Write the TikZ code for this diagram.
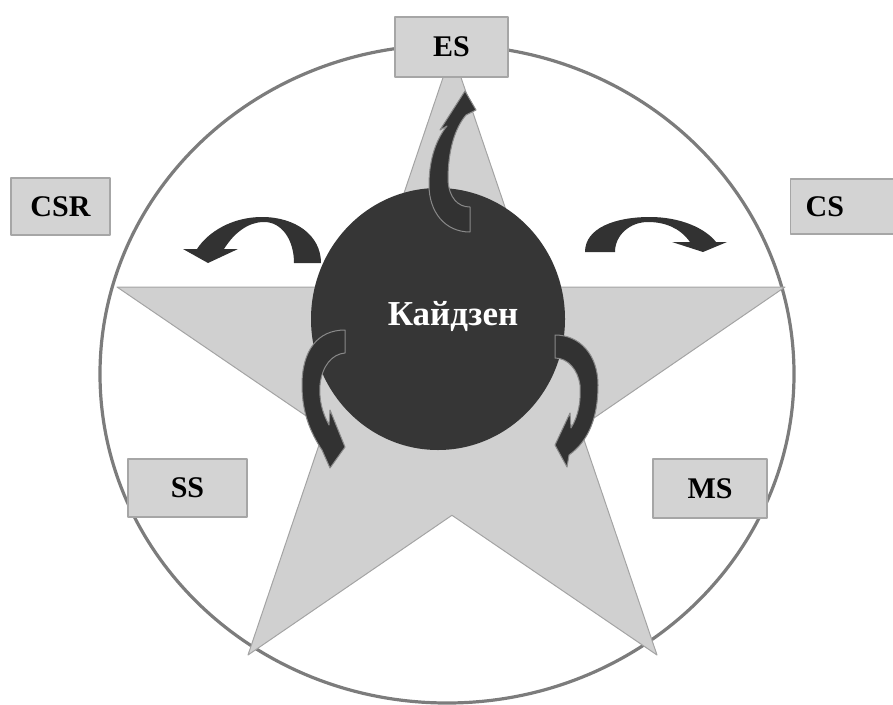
\documentclass[tikz,border=0pt]{standalone}
\usepackage{fontspec}
\setmainfont{Liberation Serif}
\usetikzlibrary{arrows.meta, shapes.geometric}
\definecolor{rimgray}{HTML}{7C7C7C}
\definecolor{starfillc}{HTML}{D0D0D0}
\definecolor{staredge}{HTML}{A4A4A4}
\definecolor{boxfill}{HTML}{D3D3D3}
\definecolor{boxedge}{HTML}{A6A6A6}
\definecolor{coredark}{HTML}{363636}
\definecolor{arrowdark}{HTML}{323232}

\begin{document}
\begin{tikzpicture}[x=1pt, y=-1pt, line join=round]
    \tikzstyle{ring}=[draw=rimgray, line width=3.2pt]
    \tikzstyle{starfill}=[fill=starfillc, draw=staredge, line width=1pt]
    \tikzstyle{labelbox}=[rectangle, fill=boxfill, draw=boxedge, line width=1.3pt, inner sep=0pt, font=\fontsize{30}{30}\selectfont\bfseries]
    \tikzstyle{core}=[ellipse, fill=coredark, minimum width=254pt, minimum height=262pt, inner sep=0pt]
    \tikzstyle{coretext}=[text=white, font=\fontsize{35}{35}\selectfont\bfseries]
    \tikzstyle{turn}=[fill=arrowdark]
    \tikzstyle{rimmed turn}=[turn, draw=rimgray!90, line width=1pt]

    \useasboundingbox (0,0) rectangle (893,704);

    % Draw the outer ring
    \draw[ring] (447,374) ellipse [x radius=347pt, y radius=329pt];

    % Draw the star: outer points, then the inner corners
    \coordinate (P-1) at (452,51);
    \coordinate (P-2) at (785,287);
    \coordinate (P-3) at (657,655);
    \coordinate (P-4) at (248,655);
    \coordinate (P-5) at (117,287);
    \coordinate (Q-1) at (intersection of P-1--P-3 and P-5--P-2);
    \coordinate (Q-2) at (intersection of P-2--P-4 and P-1--P-3);
    \coordinate (Q-3) at (intersection of P-3--P-5 and P-2--P-4);
    \coordinate (Q-4) at (intersection of P-4--P-1 and P-3--P-5);
    \coordinate (Q-5) at (intersection of P-5--P-2 and P-4--P-1);
    \draw[starfill] (P-1) -- (Q-1) -- (P-2) -- (Q-2) -- (P-3) -- (Q-3)
        -- (P-4) -- (Q-4) -- (P-5) -- (Q-5) -- cycle;

    % Draw the label boxes
    \foreach \name/\x/\y/\w/\h/\txt in {es/451.5/47/113/60/ES, csr/60.5/206.5/99/57/CSR,
                                       ss/187.5/488/119/58/SS, ms/710/488.5/114/59/MS}
        \node[labelbox, minimum width=\w pt, minimum height=\h pt] (\name) at (\x,\y) {\txt};
    \node[labelbox, anchor=west, text width=80pt, align=left, inner xsep=15pt,
          minimum height=55pt] (cs) at (790,206.5) {CS};

    % Draw the core
    \node[core] (core) at (438,319) {};

    % Arrow to ES
    \draw[rimmed turn] (470,232) .. controls (445,232) and (429,212) .. (429,185)
        .. controls (429,158) and (437,138) .. (447,126) -- (440,130) -- (465,91)
        -- (476,110) -- (466,115) .. controls (455,128) and (448,150) .. (448,180)
        .. controls (449,198) and (458,207) .. (470,207) -- cycle;

    % Arrow to CSR
    \fill[turn] (321,263) .. controls (321,235) and (295,217) .. (262,217)
        .. controls (232,217) and (208,232) .. (197,249) -- (183,249) -- (208,263)
        -- (238,249) -- (224,249) .. controls (234,233) and (248,222) .. (264,222)
        .. controls (282,222) and (294,240) .. (294,263) -- cycle;

    % Arrow to CS
    \fill[turn] (585,252) .. controls (585,228) and (615,217) .. (650,217)
        .. controls (680,217) and (705,228) .. (716,242) -- (727,242) -- (703,252)
        -- (672,242) -- (690,242) .. controls (680,228) and (665,222) .. (648,222)
        .. controls (630,222) and (615,235) .. (615,252) -- cycle;

    % Arrow to SS
    \draw[rimmed turn] (345,330) .. controls (318,330) and (302,350) .. (302,385)
        .. controls (302,412) and (310,432) .. (322,450) -- (330,468) -- (345,447)
        -- (330,410) -- (329,425) .. controls (322,412) and (319,400) .. (320,385)
        .. controls (322,366) and (332,354) .. (345,353) -- cycle;

    % Arrow to MS
    \draw[rimmed turn] (555,335) .. controls (580,335) and (598,355) .. (598,385)
        .. controls (598,415) and (590,440) .. (569,455) -- (567,467) -- (555,445)
        -- (570,413) -- (571,428) .. controls (579,415) and (581,400) .. (580,385)
        .. controls (578,370) and (568,358) .. (555,358) -- cycle;

    % Name in the core
    \node[coretext] (kaizen) at (453,316) {Кайдзен};
\end{tikzpicture}
\end{document}
